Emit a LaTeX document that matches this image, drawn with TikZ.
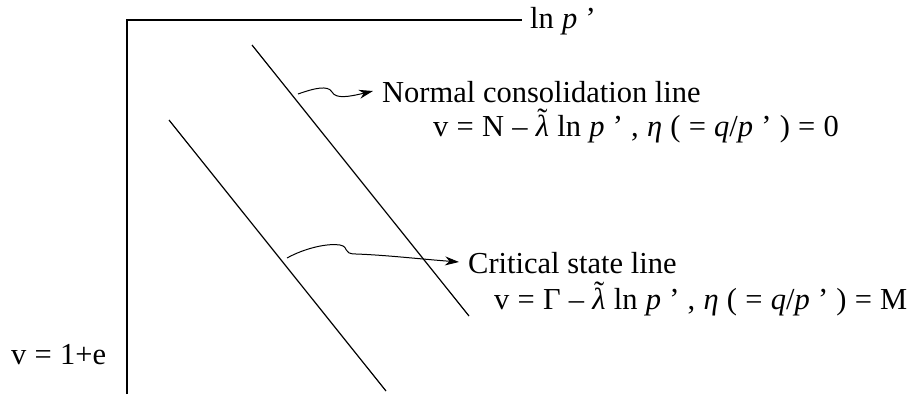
\documentclass[tikz,border=0pt]{standalone}
\usepackage{fontspec}
\setmainfont{Liberation Serif}
\usetikzlibrary{arrows.meta}
\newcommand{\lamt}{\ooalign{\textit{λ}\cr\hidewidth\smash{\raisebox{0.22em}{\char"02DC}}\hidewidth\cr}}
\newcommand{\gs}{\hspace{0.27em}}
\begin{document}
\begin{tikzpicture}[x=1pt,y=-1pt,
  lbl/.style={inner sep=0pt,anchor=west,font=\fontsize{30.5}{36}\selectfont},
  axis/.style={line width=1.1pt},
  csline/.style={line width=1.2pt},
  wavy/.style={line width=1pt,-{Stealth[length=14pt,width=9pt]}}]
\useasboundingbox (0,0) rectangle (924,394);
\coordinate (O) at (127,20);
\coordinate (ybot) at (127,394);
\coordinate (xend) at (522,20);
\draw[axis] (ybot) -- (O) -- (xend);
\node[lbl] (xlab) at (530,21) {ln\gs\textit{p}\gs’};
\node[lbl] (ylab) at (11,355) {v\gs=\gs1+e};
\coordinate (n1) at (252,45);
\coordinate (n2) at (469,316);
\coordinate (c1) at (169,120);
\coordinate (c2) at (386,391);
\draw[csline] (n1) -- (n2);
\draw[csline] (c1) -- (c2);
\node[lbl] (ncl) at (382,92) {Normal consolidation line};
\node[lbl] (ncleq) at (433,129) {v\gs=\gs N\gs–\gs\lamt\gs ln\gs\textit{p}\gs’\gs,\gs\textit{η}\gs(\gs=\gs\textit{q}/\textit{p}\gs’\gs)\gs=\gs0};
\node[lbl] (csl) at (468,263) {Critical state line};
\node[lbl] (csleq) at (494,302) {v\gs=\gs Γ\gs–\gs\lamt\gs ln\gs\textit{p}\gs’\gs,\gs\textit{η}\gs(\gs=\gs\textit{q}/\textit{p}\gs’\gs)\gs=\gs M};
\coordinate (wa1) at (298,94);
\coordinate (wb1) at (373,91);
\draw[wavy] (wa1) .. controls (315,88) and (328,85) .. (332,92) .. controls (336,99) and (348,97) .. (wb1);
\coordinate (wa2) at (287,258);
\coordinate (wb2) at (459,262);
\draw[wavy] (wa2) .. controls (305,248) and (328,243) .. (340,245) .. controls (350,247) and (342,254) .. (356,254) .. controls (385,255) and (420,259) .. (wb2);
\end{tikzpicture}
\end{document}
